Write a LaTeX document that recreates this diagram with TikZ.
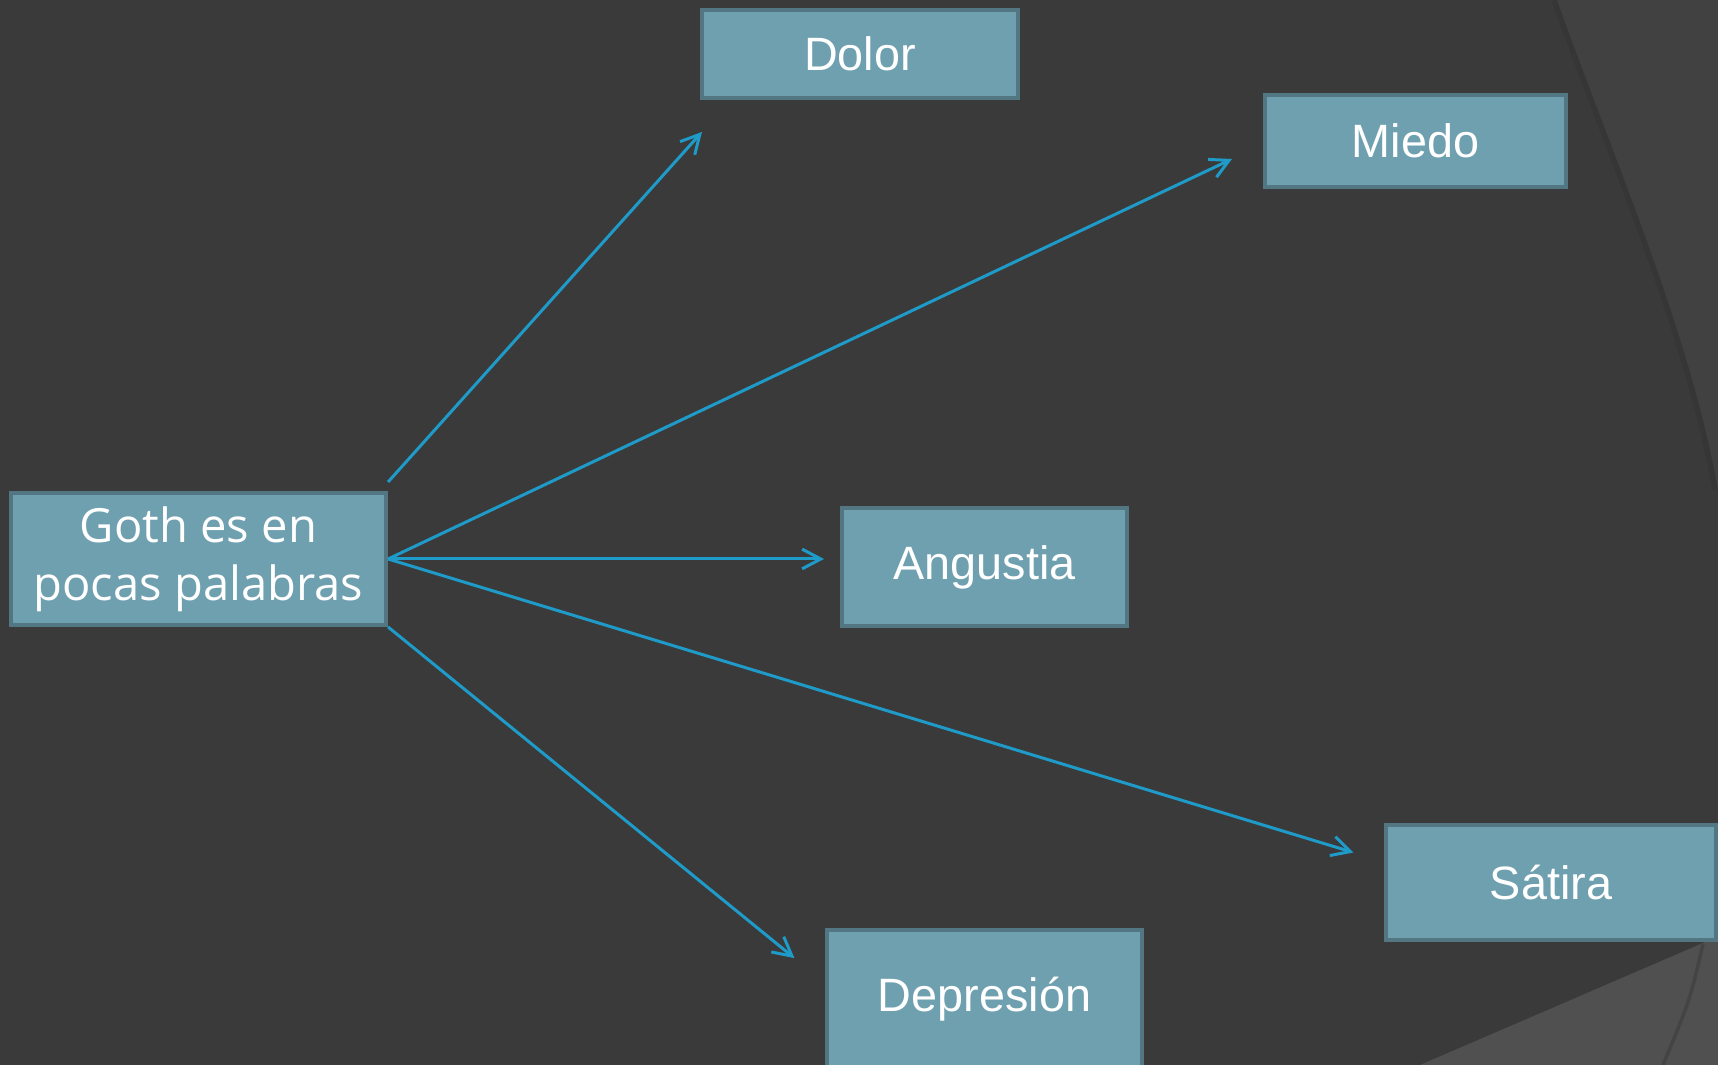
\documentclass[tikz,border=0pt]{standalone}
\usepackage{fontspec}
\setmainfont{Liberation Sans}
\newfontfamily\gothfont{Open Sans}
\usetikzlibrary{arrows.meta,positioning}

\begin{document}
\begin{tikzpicture}[x=0.01cm,y=-0.01cm]
\definecolor{slide}{RGB}{58,58,58}
\definecolor{slide light}{RGB}{65,65,65}
\definecolor{slide shadow}{RGB}{54,54,54}
\definecolor{slide corner}{RGB}{80,80,80}
\definecolor{box area}{RGB}{111,160,176}
\definecolor{box edge}{RGB}{82,118,130}
\definecolor{link blue}{RGB}{30,155,200}
\tikzset{
     box/.style={draw=box edge, fill=box area, line width=1.1pt, inner sep=0pt,
       text=white, align=center, font=\fontsize{13.3}{16}\selectfont},
     link/.style={draw=link blue, line width=0.85pt, -{Straight Barb[length=5.3pt,width=5.6pt]}}}

\useasboundingbox (0,0) rectangle (1718,1065);

% The slide background
\fill[slide] (0,0) rectangle (1718,1065);
\fill[slide light] (1557,0) .. controls (1610,150) and (1690,330) .. (1718,490) -- (1718,0) -- cycle;
\draw[slide shadow, line width=1.5pt] (1554,0) .. controls (1607,150) and (1687,330) .. (1715,490);
\fill[slide corner] (1420,1065) -- (1703,943) -- (1718,936) -- (1718,1065) -- cycle;
\draw[slide corner!85!black, line width=1pt] (1703,944) .. controls (1690,1000) .. (1663,1065);

% The boxes
\node (goth) [box, minimum width=3.75cm, minimum height=1.32cm,
  font=\gothfont\fontsize{13.4}{16.5}\selectfont] at (198.5,559) {Goth es en\\pocas palabras};
\node (dolor) [box, minimum width=3.16cm, minimum height=0.88cm] at (860,54) {Dolor};
\node (miedo) [box, minimum width=3.01cm, minimum height=0.92cm] at (1415.5,141) {Miedo};
\node (angustia) [box, minimum width=2.85cm, minimum height=1.18cm] at (984.5,567) {Angustia};
\node (satira) [box, minimum width=3.29cm, minimum height=1.15cm] at (1551,882.5) {Sátira};
\node (depresion) [box, minimum width=3.14cm, minimum height=1.38cm, below=3cm of angustia] {Depresión};

% The arrow ends
\coordinate (dolor tip) at ([shift={(2,32)}]dolor.south west);
\coordinate (miedo tip) at ([shift={(-31,18)}]miedo.west);
\coordinate (angustia tip) at ([shift={(-16,-8)}]angustia.west);
\coordinate (satira tip) at ([shift={(-31,-30)}]satira.west);
\coordinate (depresion tip) at ([shift={(-31,30)}]depresion.north west);

% The arrows
\draw[link] ([shift={(0,-9)}]goth.north east) -- (dolor tip);
\draw[link] (goth.east) -- (miedo tip);
\draw[link] (goth.east) -- (angustia tip);
\draw[link] (goth.east) -- (satira tip);
\draw[link] (goth.south east) -- (depresion tip);
\end{tikzpicture}
\end{document}
